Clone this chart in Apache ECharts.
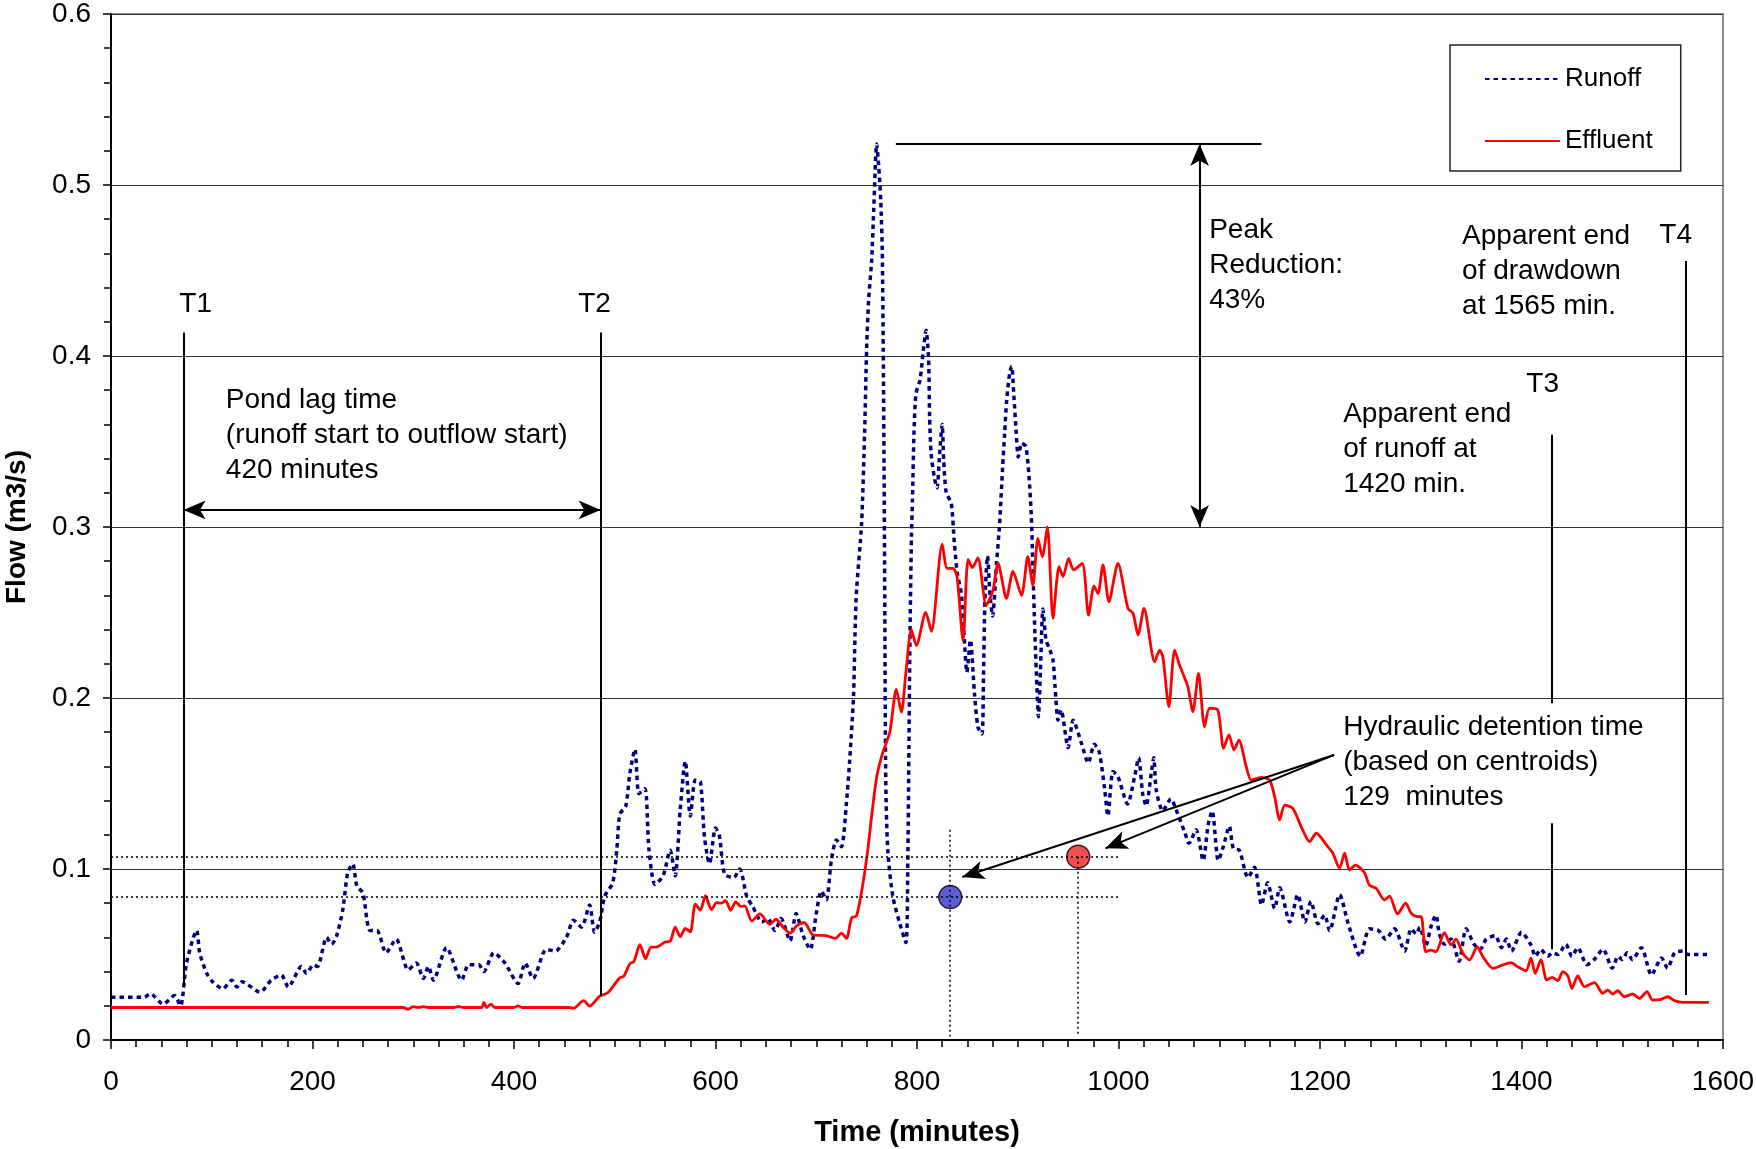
<!DOCTYPE html>
<html>
<head>
<meta charset="utf-8">
<script src="https://cdn.jsdelivr.net/npm/echarts@6/dist/echarts.min.js"></script>
<style>
  html, body { margin: 0; padding: 0; background: #fff; }
  #chart { width: 1756px; height: 1149px; }
</style>
</head>
<body>
<div id="chart"></div>
<script>
// runoff hydrograph, [minutes, m3/s]
var runoff = [
  [0, 0.025], [33, 0.025], [39, 0.027], [52, 0.021], [63, 0.026], [69, 0.020], [75, 0.045], [85, 0.064],
  [88, 0.051], [95, 0.039], [101, 0.034], [111, 0.030], [120, 0.035], [125, 0.031], [130, 0.034], [148, 0.028],
  [159, 0.035], [169, 0.038], [176, 0.031], [189, 0.043], [194, 0.039], [201, 0.044], [205, 0.043], [214, 0.060],
  [219, 0.056], [224, 0.061], [230, 0.076], [235, 0.098], [240, 0.103], [244, 0.090], [250, 0.086], [257, 0.064],
  [264, 0.064], [273, 0.051], [283, 0.059], [295, 0.041], [303, 0.045], [310, 0.036], [315, 0.043], [320, 0.035],
  [333, 0.054], [348, 0.035], [355, 0.044], [365, 0.044], [370, 0.040], [380, 0.051], [391, 0.045], [404, 0.033],
  [411, 0.045], [419, 0.036], [432, 0.053], [441, 0.052], [452, 0.060], [459, 0.070], [467, 0.066], [475, 0.079],
  [480, 0.063], [485, 0.069], [490, 0.084], [498, 0.092], [502, 0.111], [505, 0.132], [511, 0.137], [515, 0.156],
  [520, 0.170], [524, 0.144], [530, 0.147], [534, 0.111], [540, 0.091], [548, 0.096], [555, 0.111], [560, 0.096],
  [565, 0.135], [570, 0.163], [575, 0.131], [580, 0.152], [585, 0.151], [589, 0.119], [594, 0.103], [600, 0.124],
  [604, 0.119], [609, 0.097], [618, 0.095], [624, 0.100], [631, 0.084], [637, 0.078], [646, 0.069], [652, 0.071],
  [659, 0.064], [665, 0.071], [674, 0.058], [680, 0.074], [687, 0.061], [694, 0.053], [700, 0.074], [705, 0.087],
  [710, 0.082], [715, 0.105], [720, 0.117], [725, 0.113], [730, 0.139], [733, 0.162], [737, 0.201], [738.5, 0.238],
  [740, 0.263], [745, 0.302], [748, 0.355], [750, 0.404], [752, 0.433], [755, 0.456], [757, 0.485], [760, 0.524],
  [762, 0.511], [764, 0.491], [765.5, 0.462], [766.5, 0.404], [767.3, 0.335], [768, 0.259], [769, 0.152], [771, 0.111],
  [776, 0.084], [783, 0.068], [789, 0.057], [791, 0.111], [792, 0.172], [793, 0.234], [794.5, 0.295], [795.5, 0.316],
  [797, 0.355], [799, 0.378], [803, 0.386], [806, 0.402], [809, 0.415], [811.5, 0.398], [812.5, 0.365], [814, 0.343],
  [817.5, 0.328], [820, 0.323], [822, 0.339], [825, 0.360], [826.5, 0.339], [829, 0.320], [834, 0.314], [837, 0.291],
  [840, 0.273], [844, 0.261], [847, 0.234], [849.5, 0.215], [853, 0.234], [857, 0.203], [860.5, 0.183], [864.5, 0.179],
  [866, 0.213], [867.5, 0.258], [870, 0.283], [872.5, 0.260], [875, 0.248], [879, 0.279], [882, 0.302], [885, 0.335],
  [887, 0.355], [889, 0.374], [892, 0.390], [894, 0.394], [896, 0.378], [898.5, 0.355], [900.5, 0.341], [904, 0.349],
  [908, 0.347], [911, 0.331], [913.5, 0.306], [915, 0.277], [917, 0.238], [919, 0.207], [920.5, 0.189], [922.5, 0.216],
  [925, 0.252], [928, 0.234], [932, 0.228], [935, 0.222], [937, 0.207], [940, 0.187], [943, 0.193], [950, 0.171],
  [955, 0.187], [963, 0.174], [970, 0.162], [976, 0.173], [981, 0.168], [986, 0.148], [989.5, 0.131], [994.5, 0.157],
  [999.5, 0.154], [1009, 0.138], [1016, 0.154], [1020, 0.165], [1024, 0.144], [1027.5, 0.137], [1032.5, 0.156], [1035, 0.165],
  [1037.5, 0.146], [1044, 0.134], [1052, 0.141], [1057, 0.135], [1066, 0.121], [1070, 0.115], [1077, 0.123], [1084, 0.105],
  [1089, 0.126], [1093, 0.134], [1099, 0.105], [1104, 0.113], [1110, 0.125], [1114, 0.112], [1120, 0.111], [1128.5, 0.095],
  [1135, 0.101], [1142, 0.079], [1148, 0.092], [1155, 0.077], [1160, 0.089], [1170, 0.069], [1178, 0.085], [1185, 0.069],
  [1191, 0.081], [1198, 0.068], [1204.5, 0.073], [1209.5, 0.064], [1219.5, 0.085], [1228, 0.068], [1240, 0.049], [1249, 0.065],
  [1258, 0.064], [1265, 0.059], [1274, 0.065], [1284, 0.052], [1290.5, 0.065], [1295.5, 0.062], [1299, 0.066], [1305, 0.055],
  [1310, 0.066], [1315, 0.073], [1318.5, 0.062], [1323.5, 0.056], [1330, 0.059], [1338, 0.046], [1345, 0.065], [1353, 0.056],
  [1359, 0.053], [1365, 0.059], [1374, 0.061], [1380, 0.054], [1385, 0.059], [1390, 0.052], [1400, 0.063], [1409, 0.056],
  [1414, 0.049], [1419, 0.053], [1426, 0.049], [1431, 0.051], [1436, 0.050], [1444, 0.056], [1450, 0.049], [1456, 0.054],
  [1465, 0.044], [1472, 0.047], [1481, 0.053], [1490, 0.042], [1496, 0.049], [1500, 0.047], [1505, 0.051], [1510, 0.047],
  [1519, 0.054], [1529, 0.038], [1539, 0.048], [1545, 0.042], [1552, 0.051], [1560, 0.052], [1565, 0.050], [1585, 0.050]
]

// pond effluent, [minutes, m3/s]
var effluent = [
  [0, 0.019], [290, 0.019], [295, 0.018], [300, 0.0195], [305, 0.019], [310, 0.0195], [315, 0.019], [340, 0.019],
  [345, 0.0196], [350, 0.019], [368, 0.019], [370, 0.022], [373, 0.019], [377, 0.021], [381, 0.019], [400, 0.019],
  [404, 0.020], [408, 0.019], [455, 0.019], [459, 0.0185], [469, 0.023], [475, 0.0198], [485, 0.0256], [493, 0.0276],
  [505, 0.0364], [509, 0.0373], [515, 0.0446], [519, 0.0459], [525, 0.0557], [530.6, 0.0475], [536, 0.0543], [541, 0.0543],
  [550, 0.0573], [555, 0.0577], [560, 0.066], [565, 0.0604], [570, 0.0652], [575, 0.0632], [580, 0.0795], [585, 0.0759],
  [590, 0.0844], [596, 0.0762], [601, 0.0803], [606, 0.080], [610, 0.0815], [615, 0.0758], [620, 0.0808], [625, 0.0782],
  [629, 0.0784], [636, 0.0696], [644, 0.0737], [654, 0.0676], [660, 0.0706], [667, 0.066], [674, 0.0625], [681, 0.067],
  [688, 0.0687], [697, 0.0614], [710, 0.061], [719, 0.0594], [725, 0.0625], [730, 0.0594], [735, 0.0713], [740, 0.0727],
  [746, 0.0902], [751, 0.1106], [755, 0.131], [760, 0.1538], [766, 0.168], [773, 0.180], [779.5, 0.205], [784.5, 0.1917],
  [789, 0.215], [794.4, 0.240], [799.4, 0.2306], [808.6, 0.250], [814.3, 0.239], [825, 0.290], [830, 0.2758], [835.7, 0.2758],
  [839.7, 0.271], [845.7, 0.2337], [850.7, 0.281], [855, 0.2763], [860.4, 0.2819], [868.8, 0.2543], [875.4, 0.263], [880.4, 0.2788],
  [888.8, 0.2583], [895.3, 0.274], [903.7, 0.260], [910, 0.2826], [915, 0.266], [920, 0.2934], [924.4, 0.2826], [929.4, 0.300],
  [935, 0.2466], [941, 0.2768], [945, 0.271], [950.5, 0.2817], [955.4, 0.2749], [964, 0.2787], [970.3, 0.2485], [975.6, 0.2655],
  [979.6, 0.2611], [984.6, 0.2778], [990.5, 0.2563], [999.4, 0.2787], [1009.4, 0.2524], [1014.4, 0.2495], [1019.4, 0.2368], [1025.3, 0.2524],
  [1035.9, 0.2212], [1040.8, 0.228], [1044, 0.2241], [1050, 0.1949], [1055.7, 0.228], [1060.6, 0.2193], [1068.8, 0.2066], [1073.8, 0.192],
  [1079.4, 0.2144], [1085.4, 0.1832], [1090.4, 0.194], [1098.6, 0.1929], [1104.3, 0.1706], [1109.6, 0.1784], [1114.6, 0.1696], [1119.5, 0.1754],
  [1126.8, 0.1598], [1131.8, 0.152], [1141.7, 0.1536], [1150, 0.152], [1155, 0.1423], [1160, 0.1287], [1165, 0.1374], [1173, 0.1355],
  [1181.4, 0.1247], [1189.6, 0.116], [1196.3, 0.1209], [1207.8, 0.113], [1212.8, 0.1092], [1219.4, 0.1004], [1224.4, 0.1092], [1229.3, 0.0994],
  [1235.2, 0.1023], [1244, 0.098], [1249, 0.0906], [1255.7, 0.0887], [1264, 0.0819], [1269, 0.0841], [1277, 0.0737], [1285, 0.080],
  [1290.5, 0.0741], [1297, 0.0721], [1300.5, 0.0721], [1305, 0.0516], [1310, 0.0526], [1315, 0.0516], [1323.5, 0.0628], [1330, 0.0556],
  [1335, 0.059], [1341.7, 0.0507], [1348.4, 0.0468], [1356, 0.0546], [1361.7, 0.0487], [1371.5, 0.0419], [1381.4, 0.0439], [1389.5, 0.0453],
  [1396, 0.0429], [1404.4, 0.0405], [1409.4, 0.0478], [1413.6, 0.039], [1419.4, 0.047], [1425, 0.0351], [1430.6, 0.0366], [1436, 0.0347],
  [1441, 0.040], [1446, 0.0375], [1450, 0.0302], [1455.8, 0.0375], [1462.4, 0.0312], [1472.4, 0.0335], [1480.6, 0.0273], [1485.5, 0.0292],
  [1490.5, 0.0269], [1495.5, 0.0288], [1502, 0.0253], [1510.4, 0.0269], [1517, 0.0243], [1524.6, 0.0283], [1530, 0.0234], [1538.6, 0.0238],
  [1545, 0.0253], [1551.8, 0.023], [1560, 0.022], [1586, 0.022]
]

// event markers
var markerNames = ['T1', 'T2', 'T3', 'T4']
var markerTimes = [72, 486, 1430, 1563]

// centroids (runoff, effluent)
var centroidTimes = [833, 960]
var centroidFlows = [0.0836, 0.1072]
var centroidColors = ['#3333cc', '#ee2222']

var peakRunoff = 0.524
var peakEffluent = 0.300

var FONT = '"Liberation Sans", Arial, sans-serif'
var black = '#000'

var chart = echarts.init(document.getElementById('chart'), null, { renderer: 'canvas' })

function seg (a, b, opts) {
  var s = opts && opts.arrow ? 'arrow' : 'none'
  var ls = { color: black, width: (opts && opts.width) || 2, type: (opts && opts.type) || 'solid' }
  return [
    { coord: a, symbol: opts && opts.startArrow ? 'arrow' : 'none', lineStyle: ls },
    { coord: b, symbol: s }
  ]
}

var lines = [
  // T1..T4 markers
  seg([markerTimes[0], 0.4137], [markerTimes[0], 0.031]),
  seg([markerTimes[1], 0.4137], [markerTimes[1], 0.0257]),
  seg([markerTimes[2], 0.354], [markerTimes[2], 0.197]),
  seg([markerTimes[2], 0.1267], [markerTimes[2], 0.053]),
  seg([markerTimes[3], 0.4556], [markerTimes[3], 0.0263]),
  // lag time arrow
  seg([markerTimes[0], 0.310], [markerTimes[1], 0.310], { arrow: true, startArrow: true }),
  // peak reduction
  seg([779, peakRunoff], [1142, peakRunoff]),
  seg([1080.5, peakRunoff], [1080.5, peakEffluent], { arrow: true, startArrow: true }),
  // detention time pointers
  seg([1214, 0.1667], [845, 0.0953], { arrow: true }),
  seg([1214, 0.1667], [987, 0.1121], { arrow: true }),
  // centroid guides
  seg([0, centroidFlows[1]], [1001, centroidFlows[1]], { type: [2, 3], width: 1.5 }),
  seg([0, centroidFlows[0]], [1001, centroidFlows[0]], { type: [2, 3], width: 1.5 }),
  seg([centroidTimes[0], 0.123], [centroidTimes[0], 0.002], { type: [2, 3], width: 1.5 }),
  seg([centroidTimes[1], centroidFlows[1]], [centroidTimes[1], 0.002], { type: [2, 3], width: 1.5 })
]

var axisFont = { fontFamily: FONT, fontSize: 28, color: black }

chart.setOption({
  animation: false,
  backgroundColor: '#fff',
  grid: {
    left: 111, right: 33, top: 14, bottom: 109,
    outerBoundsMode: 'none', containLabel: false,
    show: true, borderColor: '#8c8c8c', borderWidth: 2
  },
  legend: {
    data: ['Runoff', 'Effluent'],
    orient: 'vertical',
    left: 1450, top: 45,
    borderColor: '#222', borderWidth: 1.5,
    padding: [21, 28, 17, 34],
    itemWidth: 75, itemHeight: 14, itemGap: 36,
    itemStyle: { opacity: 0 },
    textStyle: { fontFamily: FONT, fontSize: 26, color: black, padding: [0, 0, 0, 0] },
    backgroundColor: '#fff'
  },
  xAxis: {
    type: 'value', min: 0, max: 1600, interval: 200,
    name: 'Time (minutes)', nameLocation: 'middle', nameGap: 78,
    nameTextStyle: { fontFamily: FONT, fontSize: 29, fontWeight: 'bold', color: black },
    axisLine: { show: true, onZero: false, lineStyle: { color: black, width: 2 } },
    axisTick: { show: true, inside: false, length: 9, lineStyle: { color: black, width: 1.5 } },
    minorTick: { show: true, splitNumber: 8, length: 7, lineStyle: { color: black, width: 1.5 } },
    axisLabel: Object.assign({
      margin: 28,
      formatter: function (v) { return String(v) }
    }, axisFont),
    splitLine: { show: false }
  },
  yAxis: {
    type: 'value', min: 0, max: 0.6, interval: 0.1,
    name: 'Flow (m3/s)', nameLocation: 'middle', nameGap: 80, nameRotate: 90,
    nameTextStyle: { fontFamily: FONT, fontSize: 28, fontWeight: 'bold', color: black },
    axisLine: { show: true, onZero: false, lineStyle: { color: black, width: 2 } },
    axisTick: { show: true, inside: false, length: 8, lineStyle: { color: black, width: 1.5 } },
    minorTick: { show: true, splitNumber: 5, length: 7, lineStyle: { color: black, width: 1.5 } },
    axisLabel: Object.assign({
      margin: 20,
      formatter: function (v) { return v === 0 ? '0' : v.toFixed(1) }
    }, axisFont),
    splitLine: { show: true, lineStyle: { color: '#333', width: 1.2 } }
  },
  series: [
    {
      name: 'Runoff', type: 'line', data: runoff,
      showSymbol: false, symbol: 'none', smooth: 0.25,
      lineStyle: { color: '#000080', width: 3.5, type: [4.5, 4] },
      itemStyle: { color: '#000080' },
      z: 3
    },
    {
      name: 'Effluent', type: 'line', data: effluent,
      showSymbol: false, symbol: 'none', smooth: 0.25,
      lineStyle: { color: '#ff0000', width: 2.8 },
      itemStyle: { color: '#ff0000' },
      z: 4
    },
    {
      name: 'notes', type: 'line', data: [], silent: true,
      markLine: {
        silent: true, animation: false,
        symbolSize: [14, 22],
        label: { show: false },
        emphasis: { disabled: true },
        data: lines
      },
      z: 5
    },
    {
      name: 'centroids', type: 'scatter', symbolSize: 23,
      data: centroidTimes.map(function (t, i) {
        return { value: [t, centroidFlows[i]], itemStyle: { color: centroidColors[i], borderColor: black, borderWidth: 1.5 } }
      }),
      z: 4
    }
  ]
})

// annotation text, anchored in data space: [minutes, flow, text, align]
var notes = [
  [84, 0.430, markerNames[0], 'center'],
  [480, 0.430, markerNames[1], 'center'],
  [1421, 0.3836, markerNames[2], 'center'],
  [1553, 0.4708, markerNames[3], 'center'],
  [114, 0.3743, 'Pond lag time\n(runoff start to outflow start)\n420 minutes', 'left'],
  [1090, 0.4737, 'Peak\nReduction:\n43%', 'left'],
  [1341, 0.470, 'Apparent end\nof drawdown\nat 1565 min.', 'left'],
  [1223, 0.366, 'Apparent end\nof runoff at\n1420 min.', 'left'],
  [1223, 0.183, 'Hydraulic detention time\n(based on centroids)\n129  minutes', 'left']
]

var LH = 35
chart.setOption({
  graphic: notes.map(function (n) {
    var p = chart.convertToPixel({ gridIndex: 0 }, [n[0], n[1]])
    return {
      type: 'text', x: p[0], y: p[1] - LH / 2, z: 20, silent: true,
      style: {
        text: n[2], fill: black, font: '28px ' + FONT,
        lineHeight: LH, align: n[3], verticalAlign: 'top'
      }
    }
  })
})
</script>
</body>
</html>
